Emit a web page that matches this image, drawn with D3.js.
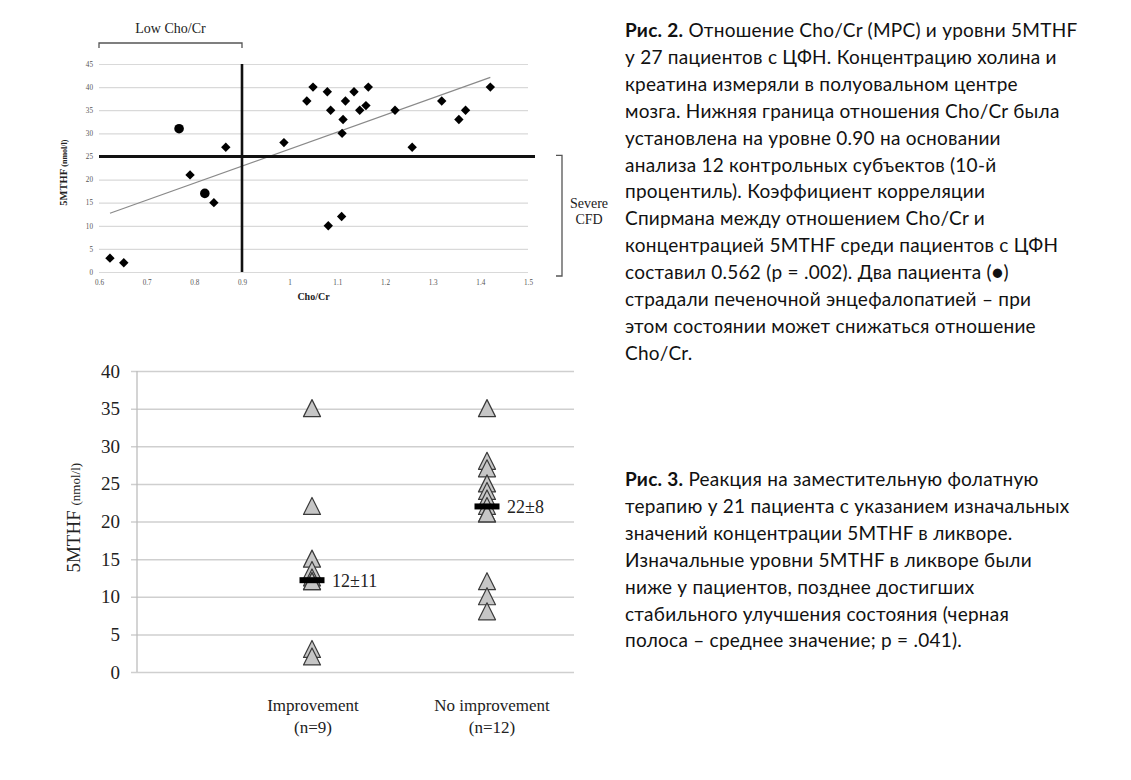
<!DOCTYPE html>
<html><head><meta charset="utf-8">
<script src="https://cdn.jsdelivr.net/npm/d3@7"></script>
<style>body{margin:0;background:#fff} svg{display:block}</style>
</head><body>
<svg id="c" width="1131" height="780"></svg>
<script>
// ---------- Figure 2 data (Cho/Cr vs 5MTHF) ----------
const diamondX = [0.623,0.652,0.791,0.841,0.866,0.988,1.036,1.049,1.079,1.086,1.081,1.109,1.110,1.112,1.117,1.135,1.147,1.160,1.165,1.221,1.257,1.319,1.355,1.369,1.421];
const diamondY = [3,2,21,15,27,28,37,40,39,35,10,12,30,33,37,39,35,36,40,35,27,37,33,35,40];
const circleX = [0.768,0.822];
const circleY = [31,17];
const trendX = [0.623,1.421];
const trendY = [12.7,42.1];
const choCrCutoff = 0.9;
const severeCutoff = 25;
const topXTicks = [0.6,0.7,0.8,0.9,1.0,1.1,1.2,1.3,1.4,1.5];
const topXTickLabels = ["0.6","0.7","0.8","0.9","1","1.1","1.2","1.3","1.4","1.5"];
const topYTicks = [0,5,10,15,20,25,30,35,40,45];

// ---------- Figure 3 data (response to folate therapy) ----------
const groups = ["Improvement","No improvement"];
const groupN = ["(n=9)","(n=12)"];
const improvementValues = [35,22,15,13.5,12.5,12,12,3,2];
const noImprovementValues = [35,28,27,25,24,23,22,21,21,12,10,8];
const groupMeans = [12.2,22];
const meanLabels = ["12±11","22±8"];
const botYTicks = [0,5,10,15,20,25,30,35,40];

// ---------- Caption texts ----------
const caption2 = [
  ["Рис. 2.", " Отношение Cho/Cr (МРС) и уровни 5MTHF"],
  ["", "у 27 пациентов с ЦФН. Концентрацию холина и"],
  ["", "креатина измеряли в полуовальном центре"],
  ["", "мозга. Нижняя граница отношения Cho/Cr была"],
  ["", "установлена на уровне 0.90 на основании"],
  ["", "анализа 12 контрольных субъектов (10-й"],
  ["", "процентиль). Коэффициент корреляции"],
  ["", "Спирмана между отношением Cho/Cr и"],
  ["", "концентрацией 5MTHF среди пациентов с ЦФН"],
  ["", "составил 0.562 (p = .002). Два пациента (●)"],
  ["", "страдали печеночной энцефалопатией – при"],
  ["", "этом состоянии может снижаться отношение"],
  ["", "Cho/Cr."]
];
const caption3 = [
  ["Рис. 3.", " Реакция на заместительную фолатную"],
  ["", "терапию у 21 пациента с указанием изначальных"],
  ["", "значений концентрации 5MTHF в ликворе."],
  ["", "Изначальные уровни 5MTHF в ликворе были"],
  ["", "ниже у пациентов, позднее достигших"],
  ["", "стабильного улучшения состояния (черная"],
  ["", "полоса – среднее значение; p = .041)."]
];

const svg = d3.select("#c");
const serif = "'Liberation Serif','Times New Roman',serif";

// ================= Figure 2 =================
const x1 = d3.scaleLinear().domain([0.6,1.5]).range([99,528]);
const y1 = d3.scaleLinear().domain([0,45]).range([272,64]);
const g1 = svg.append("g");

const yAx1 = g1.append("g").attr("transform",`translate(${x1(0.6)},0)`)
  .call(d3.axisLeft(y1).tickValues(topYTicks).tickSize(-(x1(1.5)-x1(0.6))).tickPadding(6));
yAx1.select(".domain").remove();
yAx1.selectAll(".tick line").attr("stroke","#d9d9d9").attr("stroke-width",1.2);
yAx1.selectAll(".tick text").attr("font-family",serif).attr("font-size",7.2).attr("fill","#555");

const xAx1 = g1.append("g").attr("transform",`translate(0,${y1(0)})`)
  .call(d3.axisBottom(x1).tickValues(topXTicks).tickFormat((d,i)=>topXTickLabels[i]).tickSize(0).tickPadding(8));
xAx1.select(".domain").remove();
xAx1.selectAll(".tick text").attr("font-family",serif).attr("font-size",7.2).attr("fill","#555");

g1.append("line")
  .attr("x1",x1(trendX[0])).attr("y1",y1(trendY[0]))
  .attr("x2",x1(trendX[1])).attr("y2",y1(trendY[1]))
  .attr("stroke","#8a8a8a").attr("stroke-width",1.2);

g1.append("line").attr("x1",x1(choCrCutoff)).attr("x2",x1(choCrCutoff))
  .attr("y1",y1(45)).attr("y2",y1(0)).attr("stroke","#111").attr("stroke-width",2.6);
g1.append("line").attr("x1",x1(0.6)).attr("x2",x1(1.5)+7)
  .attr("y1",y1(severeCutoff)).attr("y2",y1(severeCutoff)).attr("stroke","#111").attr("stroke-width",3);

g1.selectAll("path.dia").data(diamondX.map((d,i)=>[d,diamondY[i]])).join("path")
  .attr("class","dia")
  .attr("d",d3.symbol(d3.symbolSquare,44))
  .attr("transform",d=>`translate(${x1(d[0])},${y1(d[1])}) rotate(45)`)
  .attr("fill","#000");
g1.selectAll("circle.pt").data(circleX.map((d,i)=>[d,circleY[i]])).join("circle")
  .attr("class","pt")
  .attr("cx",d=>x1(d[0])).attr("cy",d=>y1(d[1])).attr("r",4.8).attr("fill","#000");

g1.append("text").attr("x",x1(1.05)).attr("y",300).attr("text-anchor","middle")
  .attr("font-family",serif).attr("font-size",10).attr("font-weight","bold").attr("fill","#222").text("Cho/Cr");
const yt1 = g1.append("text").attr("transform",`translate(67,${y1(21.5)}) rotate(-90)`)
  .attr("text-anchor","middle").attr("font-family",serif).attr("font-weight","bold").attr("fill","#222");
yt1.append("tspan").attr("font-size",10.5).text("5MTHF ");
yt1.append("tspan").attr("font-size",8).text("(nmol/l)");

const bl = x1(0.6), br = x1(choCrCutoff);
g1.append("path").attr("d",`M${bl},48 V43 H${br} V48`).attr("fill","none").attr("stroke","#555").attr("stroke-width",1.3);
g1.append("text").attr("x",(bl+br)/2).attr("y",33).attr("text-anchor","middle")
  .attr("font-family",serif).attr("font-size",14).attr("fill","#222").text("Low Cho/Cr");
g1.append("path").attr("d",`M556,${y1(severeCutoff)-1} H562 V${y1(0)+4} H556`).attr("fill","none").attr("stroke","#555").attr("stroke-width",1.3);
g1.append("text").attr("x",589).attr("y",208).attr("text-anchor","middle")
  .attr("font-family",serif).attr("font-size",14).attr("fill","#222").text("Severe");
g1.append("text").attr("x",589).attr("y",224).attr("text-anchor","middle")
  .attr("font-family",serif).attr("font-size",14).attr("fill","#222").text("CFD");

// ================= Figure 3 =================
const y2 = d3.scaleLinear().domain([0,40]).range([672,371]);
const x2 = d3.scalePoint().domain(groups).range([312,487]);
const g2 = svg.append("g");
const axisX = 137, gridRight = 574;

const yAx2 = g2.append("g").attr("transform",`translate(131,0)`)
  .call(d3.axisLeft(y2).tickValues(botYTicks).tickSize(-(gridRight-131)).tickPadding(11));
yAx2.select(".domain").remove();
yAx2.selectAll(".tick line").attr("stroke","#cfcfcf").attr("stroke-width",1.5);
yAx2.selectAll(".tick text").attr("font-family",serif).attr("font-size",19).attr("fill","#222");
g2.append("line").attr("x1",axisX).attr("x2",axisX).attr("y1",y2(40)).attr("y2",y2(0))
  .attr("stroke","#bdbdbd").attr("stroke-width",1.3);

const tri = "M0,-9 L8.5,8 L-8.5,8 Z";
const allPts = [];
improvementValues.forEach(v=>allPts.push([groups[0],v]));
noImprovementValues.forEach(v=>allPts.push([groups[1],v]));
g2.selectAll("path.tri").data(allPts).join("path").attr("class","tri")
  .attr("d",tri)
  .attr("transform",d=>`translate(${x2(d[0])},${y2(d[1])})`)
  .attr("fill","#c6c6c6").attr("stroke","#3a3a3a").attr("stroke-width",1.2).attr("stroke-linejoin","round");

g2.selectAll("rect.mean").data(groups).join("rect").attr("class","mean")
  .attr("x",d=>x2(d)-12.5).attr("y",(d,i)=>y2(groupMeans[i])-3)
  .attr("width",25).attr("height",6).attr("fill","#000");
g2.selectAll("text.meanlab").data(groups).join("text").attr("class","meanlab")
  .attr("x",d=>x2(d)+20).attr("y",(d,i)=>y2(groupMeans[i])+7)
  .attr("font-family",serif).attr("font-size",18).attr("fill","#222")
  .text((d,i)=>meanLabels[i]);

g2.selectAll("text.cat").data(groups).join("text").attr("class","cat")
  .attr("x",(d,i)=>x2(d)+(i===0?1:5)).attr("y",711).attr("text-anchor","middle")
  .attr("font-family",serif).attr("font-size",17).attr("fill","#222").text(d=>d);
g2.selectAll("text.catn").data(groups).join("text").attr("class","catn")
  .attr("x",(d,i)=>x2(d)+(i===0?1:5)).attr("y",733).attr("text-anchor","middle")
  .attr("font-family",serif).attr("font-size",17).attr("fill","#222").text((d,i)=>groupN[i]);

const yt2 = g2.append("text").attr("transform",`translate(80,${y2(20.5)}) rotate(-90)`)
  .attr("text-anchor","middle").attr("font-family",serif).attr("fill","#222");
yt2.append("tspan").attr("font-size",19).text("5MTHF ");
yt2.append("tspan").attr("font-size",13).text("(nmol/l)");

// ================= Captions =================
const sans = "Lato,'Open Sans',sans-serif";
function caption(lines, y0){
  const t = svg.append("g");
  lines.forEach((ln,i)=>{
    const tx = t.append("text").attr("x",625).attr("y",y0+i*26.9)
      .attr("font-family",sans).attr("font-size",19).attr("letter-spacing",0.25).attr("fill","#111");
    if(ln[0]) tx.append("tspan").attr("font-weight","bold").text(ln[0]);
    tx.append("tspan").text(ln[1]);
  });
}
caption(caption2, 37);
caption(caption3, 486);
</script>
</body></html>
